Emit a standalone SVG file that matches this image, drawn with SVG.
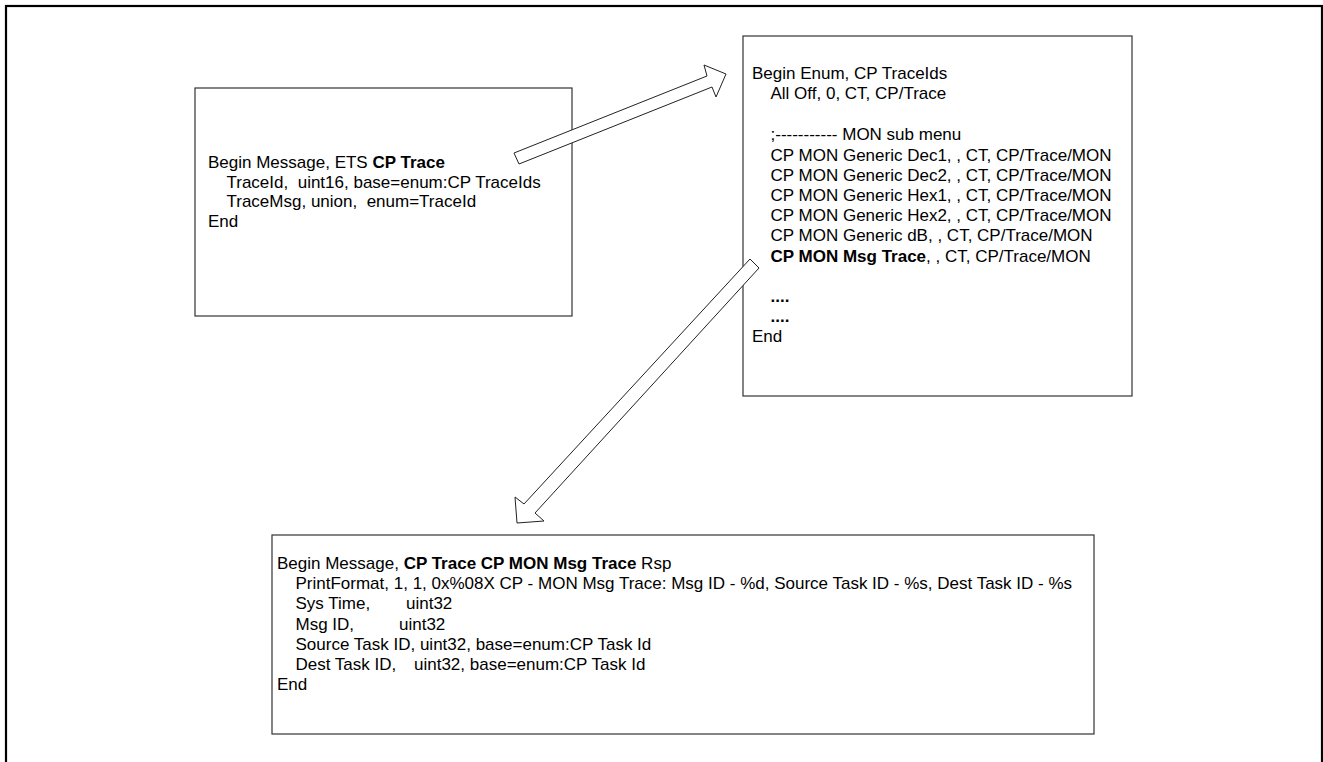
<svg xmlns="http://www.w3.org/2000/svg" width="1323" height="762" viewBox="0 0 1323 762">
<style>
.box{fill:#fff;stroke:#333;stroke-width:1.2}
.frame{fill:none;stroke:#000;stroke-width:2.2}
.arrow{fill:#fff;stroke:#222;stroke-width:1}
text{font-family:"Liberation Sans",Arial,sans-serif;font-size:17px;fill:#000;white-space:pre}
.b{font-weight:bold}
</style>
<rect class="frame" x="6" y="6" width="1316" height="800"/>
<g id="node-cp-trace">
<rect class="box" x="195" y="88" width="377" height="228"/>
<text x="208" y="168">Begin Message, ETS <tspan class="b">CP Trace</tspan></text>
<text x="226.5" y="187.5" xml:space="preserve">TraceId,  uint16, base=enum:CP TraceIds</text>
<text x="226.5" y="207" xml:space="preserve">TraceMsg, union,  enum=TraceId</text>
<text x="208" y="226.5">End</text>
</g>
<g id="node-trace-ids">
<rect class="box" x="743" y="36" width="389" height="360"/>
<text x="752" y="79">Begin Enum, CP TraceIds</text>
<text x="770.5" y="99.2">All Off, 0, CT, CP/Trace</text>
<text x="770.5" y="140">;----------- MON sub menu</text>
<text x="770.5" y="160.5">CP MON Generic Dec1, , CT, CP/Trace/MON</text>
<text x="770.5" y="180.7">CP MON Generic Dec2, , CT, CP/Trace/MON</text>
<text x="770.5" y="200.9">CP MON Generic Hex1, , CT, CP/Trace/MON</text>
<text x="770.5" y="221.1">CP MON Generic Hex2, , CT, CP/Trace/MON</text>
<text x="770.5" y="241.3">CP MON Generic dB, , CT, CP/Trace/MON</text>
<text x="770.5" y="261.5"><tspan class="b">CP MON Msg Trace</tspan>, , CT, CP/Trace/MON</text>
<text class="b" x="770.5" y="301.8">....</text>
<text class="b" x="770.5" y="322">....</text>
<text x="752" y="342">End</text>
</g>
<g id="node-msg-trace-rsp">
<rect class="box" x="272" y="535" width="822" height="199"/>
<text x="277" y="569">Begin Message, <tspan class="b">CP Trace CP MON Msg Trace</tspan> Rsp</text>
<text x="295.5" y="589.2">PrintFormat, 1, 1, 0x%08X CP - MON Msg Trace: Msg ID - %d, Source Task ID - %s, Dest Task ID - %s</text>
<text x="295.5" y="609.4">Sys Time,<tspan x="406">uint32</tspan></text>
<text x="295.5" y="629.6">Msg ID,<tspan x="399">uint32</tspan></text>
<text x="295.5" y="649.8">Source Task ID, uint32, base=enum:CP Task Id</text>
<text x="295.5" y="670">Dest Task ID,<tspan x="414">uint32, base=enum:CP Task Id</tspan></text>
<text x="277" y="690.2">End</text>
</g>
<g id="connectors">
<polygon class="arrow" points="514,153 707,76 704,65 726,74 716,97 712,87 519,164"/>
<polygon class="arrow" points="750,259 759,268 535,513 544,521 517,523 515,497 524,504"/>
</g>
</svg>
